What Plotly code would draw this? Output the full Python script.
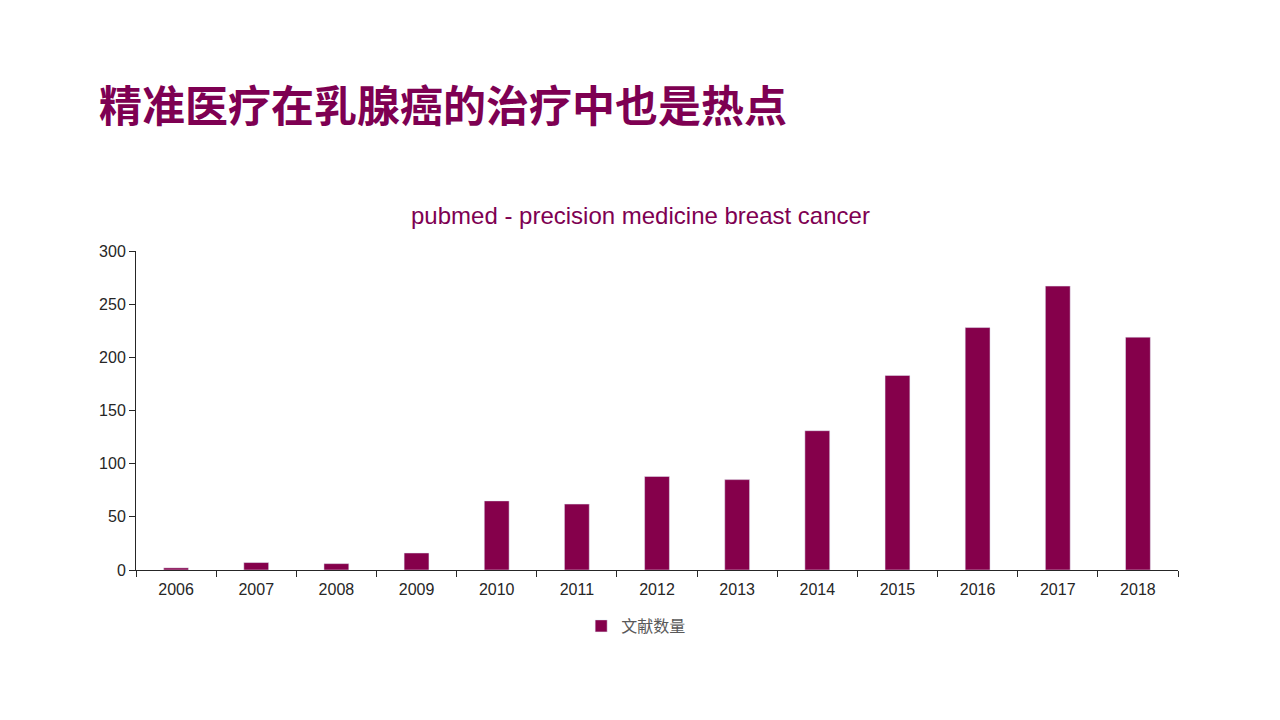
import plotly.graph_objects as go

# pubmed hits for "precision medicine breast cancer", per year
years = ["2006", "2007", "2008", "2009", "2010", "2011", "2012",
         "2013", "2014", "2015", "2016", "2017", "2018"]
papers = [2, 7, 6, 16, 65, 62, 88, 85, 131, 183, 228, 267, 219]
y_ticks = [0, 50, 100, 150, 200, 250, 300]

bar_color = "#85004B"
title_color = "#7E0052"

fig = go.Figure()
fig.add_trace(go.Bar(
    x=years,
    y=papers,
    name="文献数量",
    marker_color=bar_color,
))

fig.update_layout(
    width=1280,
    height=720,
    margin=dict(l=128, r=110, t=243, b=158),
    paper_bgcolor="white",
    plot_bgcolor="white",
    bargap=0.69,
    font=dict(family="Arial, Liberation Sans, Noto Sans CJK SC", size=16, color="#262626"),
    showlegend=True,
    legend=dict(orientation="h", x=0.48, xanchor="center", y=-0.1755, yanchor="middle",
                font=dict(size=16, color="#595959", family="Noto Sans CJK SC"),
                itemwidth=30),
    annotations=[
        dict(text="<b>精准医疗在乳腺癌的治疗中也是热点</b>", xref="paper", yref="paper",
             x=-0.0375, y=1.464, xanchor="left", yanchor="middle", showarrow=False,
             font=dict(size=43, color=title_color, family="Noto Sans CJK SC")),
        dict(text="pubmed - precision medicine breast cancer", xref="paper", yref="paper",
             x=0.4837, y=1.110, xanchor="center", yanchor="middle", showarrow=False,
             font=dict(size=24, color=title_color, family="Arial, Liberation Sans")),
    ],
)

fig.update_xaxes(
    type="category",
    showline=True, linecolor="#262626", linewidth=1,
    ticks="outside", tickson="boundaries", ticklen=6, tickcolor="#262626",
    ticklabelstandoff=5,
    showgrid=False,
)
fig.update_yaxes(
    range=[0, 300], tickvals=y_ticks,
    showline=True, linecolor="#262626", linewidth=1,
    ticks="outside", ticklen=6, tickcolor="#262626",
    showgrid=False, zeroline=False,
)

fig.write_html("out.html")
